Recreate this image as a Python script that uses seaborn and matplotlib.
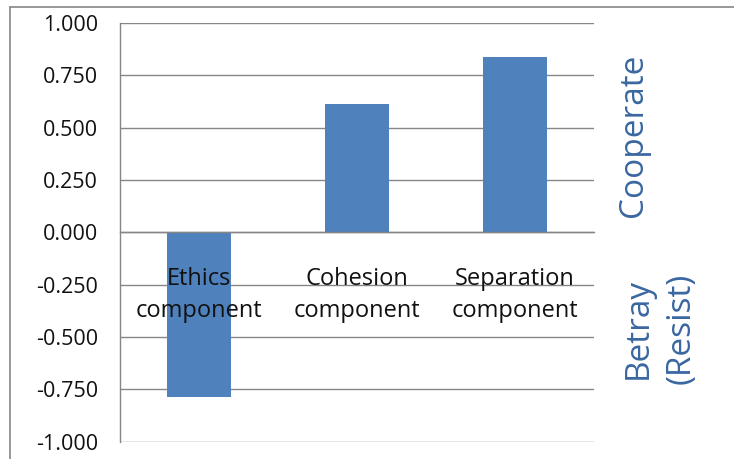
import matplotlib
matplotlib.use("Agg")
import matplotlib.pyplot as plt
from matplotlib.lines import Line2D
import seaborn as sns
import pandas as pd

# Component scores (positive = cooperate, negative = betray/resist)
categories = ["Ethics\ncomponent", "Cohesion\ncomponent", "Separation\ncomponent"]
values = [-0.785, 0.612, 0.837]
y_ticks = [-1.0, -0.75, -0.5, -0.25, 0.0, 0.25, 0.5, 0.75, 1.0]
upper_label = "Cooperate"
lower_label = "Betray\n(Resist)"

BAR = "#4F81BD"
GRID = "#868686"
NOTE = "#3A67A0"

sns.set_theme(style="white")
plt.rcParams["font.family"] = ["Open Sans", "DejaVu Sans"]

W, H = 734, 459
fig = plt.figure(figsize=(W / 100, H / 100), dpi=100)
ax = fig.add_axes([120 / W, 1 - 441.5 / H, (594 - 120) / W, (441.5 - 23) / H])

df = pd.DataFrame({"component": categories, "score": values})
sns.barplot(data=df, x="component", y="score", color=BAR, saturation=1,
            width=0.405, linewidth=0, ax=ax)

ax.set_xlim(-0.5, 2.5)
ax.set_ylim(-1, 1)
ax.set_yticks(y_ticks)
ax.set_yticklabels([f"{v:.3f}" for v in y_ticks])
ax.set_xlabel("")
ax.set_ylabel("")

# horizontal gridlines behind the bars, category labels above them
ax.yaxis.grid(True, color=GRID, lw=1.0)
ax.xaxis.grid(False)
ax.set_axisbelow(True)
ax.xaxis.set_zorder(3)

for side in ("top", "right"):
    ax.spines[side].set_visible(False)
ax.spines["bottom"].set_position(("data", 0))
ax.spines["bottom"].set_color(GRID)
ax.spines["bottom"].set_linewidth(1.0)
ax.spines["left"].set_color(GRID)
ax.spines["left"].set_linewidth(1.0)

ax.tick_params(axis="y", length=5, width=1, color=GRID, labelsize=15.5,
               labelcolor="#111111", pad=11)
ax.set_xticks([0.5, 1.5, 2.5], minor=True)
ax.tick_params(axis="x", which="major", length=0, labelsize=17,
               labelcolor="#111111", pad=25)
ax.tick_params(axis="x", which="minor", length=7, width=1, color=GRID,
               direction="out")
for lab in ax.get_xticklabels():
    lab.set_linespacing(1.45)

# side annotations
fig.text(633 / W, 1 - 135 / H, upper_label, rotation=90, ha="center",
         va="center", fontsize=24, color=NOTE)
fig.text(660 / W, 1 - 328 / H, lower_label, rotation=90, ha="center",
         va="center", multialignment="center", fontsize=24, color=NOTE,
         linespacing=1.4)

# chart frame
fig.add_artist(Line2D([10 / W, 10 / W], [0, 1 - 7 / H],
                      transform=fig.transFigure, color=GRID, lw=1.2))
fig.add_artist(Line2D([10 / W, 1], [1 - 7 / H, 1 - 7 / H],
                      transform=fig.transFigure, color=GRID, lw=1.2))

fig.savefig("out.png", dpi=100)
